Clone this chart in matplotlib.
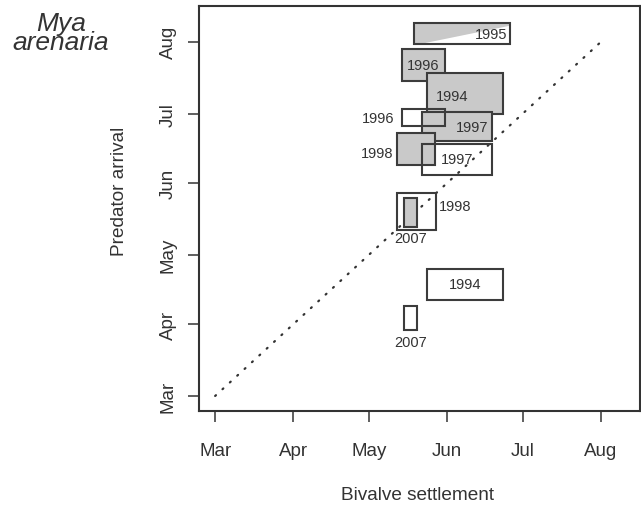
import matplotlib
matplotlib.use('Agg')
import matplotlib.pyplot as plt
from matplotlib.patches import Rectangle, Polygon

plt.rcParams['font.family'] = ['Liberation Sans', 'DejaVu Sans']

# month ticks as day of year
month_names = ['Mar', 'Apr', 'May', 'Jun', 'Jul', 'Aug']
month_days = [60, 91, 121, 152, 182, 213]

# shaded boxes: settlement window (x) vs predator arrival window (y), day of year
gray_year = ['1995', '1996', '1994', '1997', '1998', '2007']
gray_x0 = [139, 134, 144, 142, 132, 135]
gray_x1 = [177, 151, 174, 170, 147, 140]
gray_y0 = [212, 196, 182, 170, 160, 133]
gray_y1 = [221, 210, 199.5, 182.5, 173.5, 145.5]

# open boxes
white_year = ['1996', '1997', '1998', '1994', '2007']
white_x0 = [134, 142, 132, 144, 135]
white_x1 = [151, 170, 147.5, 174, 140]
white_y0 = [176.5, 155.5, 131.5, 101.5, 88.5]
white_y1 = [184, 169, 147.5, 115, 99]

# label placement for each box (layout only)
gray_place = [('inright', 1.2, 0), ('center', 0, 0), ('center', -5, -1),
              ('inright', 1.8, 0), ('left', 1.3, -1.8), ('below', 0, -1.6)]
white_place = [('left', 3, 0), ('center', 0, 0), ('right', 1.4, 2.5),
               ('center', 0, 0), ('below', 0, -2.3)]

edge = '#3c3c3c'
txt = '#333333'
fs_lab = 10.5

fig = plt.figure(figsize=(6.41, 5.06), dpi=100)
ax = fig.add_axes([199 / 641, 94 / 506, 441 / 641, 405 / 506])

ax.plot([month_days[0], month_days[-1]], [month_days[0], month_days[-1]],
        ls=(0, (0.5, 4)), lw=1.6, color='#333333', dash_capstyle='round', zorder=1)


def put_label(s, kind, dx, dy, x0, x1, y0, y1):
    cx = (x0 + x1) / 2
    cy = (y0 + y1) / 2
    if kind == 'center':
        ax.text(cx + dx, cy + dy, s, ha='center', va='center', fontsize=fs_lab, color=txt, zorder=5)
    elif kind == 'inright':
        ax.text(x1 - dx, cy + dy, s, ha='right', va='center', fontsize=fs_lab, color=txt, zorder=5)
    elif kind == 'left':
        ax.text(x0 - dx, cy + dy, s, ha='right', va='center', fontsize=fs_lab, color=txt, zorder=5)
    elif kind == 'right':
        ax.text(x1 + dx, cy + dy, s, ha='left', va='center', fontsize=fs_lab, color=txt, zorder=5)
    elif kind == 'below':
        ax.text(cx + dx, y0 + dy, s, ha='center', va='top', fontsize=fs_lab, color=txt, zorder=5)


for i in range(len(gray_year)):
    x0, x1, y0, y1 = gray_x0[i], gray_x1[i], gray_y0[i], gray_y1[i]
    if gray_year[i] == '1995':
        # only partly shaded
        ax.add_patch(Polygon([(x0, y0), (x0 + 2, y0), (x1, y1 - 1), (x1, y1), (x0, y1)],
                             closed=True, facecolor='#c9c9c9', edgecolor='none', zorder=2))
        ax.add_patch(Rectangle((x0, y0), x1 - x0, y1 - y0, facecolor='none',
                               edgecolor=edge, lw=1.5, zorder=3))
    else:
        ax.add_patch(Rectangle((x0, y0), x1 - x0, y1 - y0, facecolor='#c9c9c9',
                               edgecolor=edge, lw=1.5, zorder=2))
    put_label(gray_year[i], *gray_place[i], x0, x1, y0, y1)

for i in range(len(white_year)):
    x0, x1, y0, y1 = white_x0[i], white_x1[i], white_y0[i], white_y1[i]
    ax.add_patch(Rectangle((x0, y0), x1 - x0, y1 - y0, facecolor='none',
                           edgecolor=edge, lw=1.5, zorder=3))
    put_label(white_year[i], *white_place[i], x0, x1, y0, y1)

ax.set_xlim(53.6, 228.5)
ax.set_ylim(53.5, 228.5)
ax.set_xticks(month_days, month_names)
ax.set_yticks(month_days, month_names, rotation=90, va='center')
ax.tick_params(length=8, width=1.2, color='#444444', labelsize=13.5, labelcolor=txt)
ax.tick_params(axis='x', pad=14)
ax.tick_params(axis='y', pad=8)
for sp in ax.spines.values():
    sp.set_color('#333333')
    sp.set_linewidth(1.5)

fig.text(418 / 641, 1 - 500 / 506, 'Bivalve settlement', ha='center', va='baseline',
         fontsize=13.7, color=txt)
fig.text(119 / 641, 1 - 191 / 506, 'Predator arrival', ha='center', va='center',
         rotation=90, fontsize=13.7, color=txt)
fig.text(61 / 641, 1 - 50.5 / 506, 'Mya\narenaria', ha='center', va='baseline',
         multialignment='center', linespacing=0.76, fontsize=19,
         style='italic', color=txt)

fig.savefig('out.png', dpi=100)
